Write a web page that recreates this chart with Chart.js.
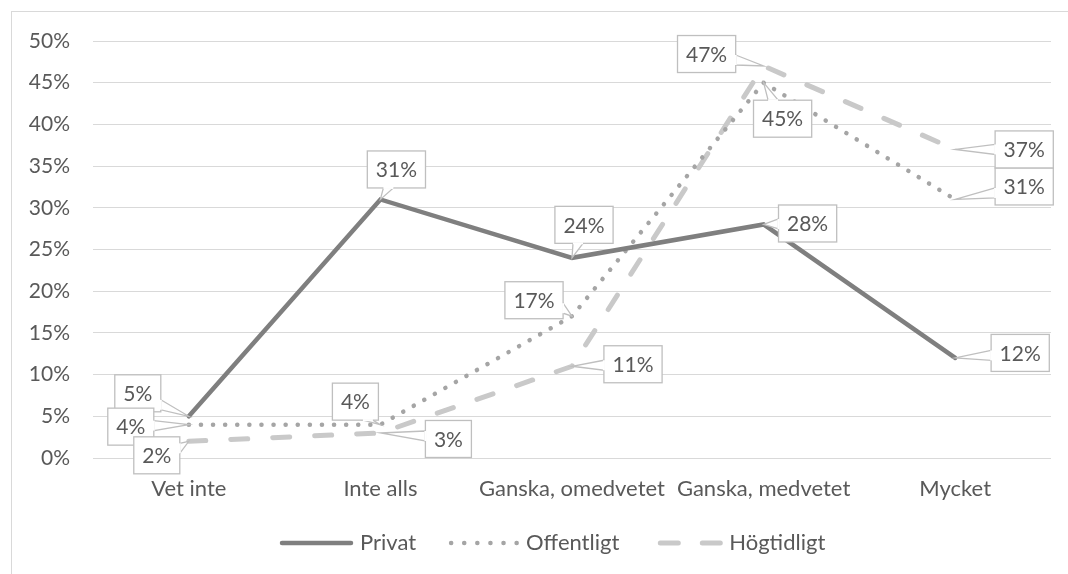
<!DOCTYPE html>
<html>
<head>
<meta charset="utf-8">
<script src="https://cdn.jsdelivr.net/npm/chart.js@4"></script>
<style>
  body { margin: 0; background: #fff; }
  #wrap { position: absolute; left: 0; top: 0; width: 1068px; height: 574px; overflow: hidden; }
  #frame { position: absolute; left: 11px; top: 11px; width: 1100px; height: 620px; border: 1px solid #d9d9d9; }
  #chart { position: absolute; left: 0; top: 0; }
</style>
</head>
<body>
<div id="wrap">
  <div id="frame"></div>
  <canvas id="chart" width="1068" height="574"></canvas>
</div>
<script>
var categories = ['Vet inte', 'Inte alls', 'Ganska, omedvetet', 'Ganska, medvetet', 'Mycket'];
var privat = [5, 31, 24, 28, 12];
var offentligt = [4, 4, 17, 45, 31];
var hogtidligt = [2, 3, 11, 47, 37];
var seriesNames = ['Privat', 'Offentligt', 'Högtidligt'];
var yTicks = [0, 5, 10, 15, 20, 25, 30, 35, 40, 45, 50];

// where each callout box sits, relative to its point (dx, dy of box centre)
var calloutOffsets = [
    [[-51, -23], [16, -30], [12, -33], [44, -1], [65, -5]],
    [[-58, 2], [-25, -23], [-38, -16], [19, 36], [69, -13]],
    [[-32, 14], [68, 6], [61, -2], [-57, -12], [69, 0]]
];

var FONT = 'Lato, "Noto Sans", sans-serif';
var TEXT = '#595959';

var calloutPlugin = {
    id: 'callouts',
    afterDatasetsDraw: function (chart) {
        var ctx = chart.ctx;
        ctx.save();
        ctx.font = '21px ' + FONT;
        chart.data.datasets.forEach(function (ds, i) {
            var meta = chart.getDatasetMeta(i);
            meta.data.forEach(function (pt, j) {
                var off = calloutOffsets[i][j];
                var label = ds.data[j] + '%';
                var w = ctx.measureText(label).width + 17;
                var h = 37;
                var cx = pt.x + off[0], cy = pt.y + off[1];
                var x0 = cx - w / 2, y0 = cy - h / 2;
                // pointer wedge base on the nearest edge
                var vx = pt.x - cx, vy = pt.y - cy;
                var b1, b2;
                if (Math.abs(vx) / (w / 2) > Math.abs(vy) / (h / 2)) {
                    var ex = vx > 0 ? x0 + w : x0;
                    var by = Math.max(y0 + 6, Math.min(y0 + h - 6, cy + vy * 0.5));
                    b1 = [ex, by - 5]; b2 = [ex, by + 5];
                } else {
                    var ey = vy > 0 ? y0 + h : y0;
                    var bx = Math.max(x0 + 6, Math.min(x0 + w - 6, cx + vx * 0.5));
                    b1 = [bx - 5, ey]; b2 = [bx + 5, ey];
                }
                ctx.fillStyle = '#ffffff';
                ctx.strokeStyle = '#bfbfbf';
                ctx.lineWidth = 1.3;
                ctx.beginPath();
                ctx.moveTo(b1[0], b1[1]);
                ctx.lineTo(pt.x, pt.y);
                ctx.lineTo(b2[0], b2[1]);
                ctx.closePath();
                ctx.fill();
                ctx.stroke();
                ctx.fillRect(x0, y0, w, h);
                ctx.strokeRect(x0, y0, w, h);
                // open the border where the wedge joins
                ctx.beginPath();
                ctx.moveTo(b1[0], b1[1]);
                ctx.lineTo(b2[0], b2[1]);
                ctx.strokeStyle = '#ffffff';
                ctx.lineWidth = 2;
                ctx.stroke();
                ctx.fillStyle = TEXT;
                ctx.textAlign = 'center';
                ctx.textBaseline = 'middle';
                ctx.fillText(label, cx, cy + 1);
            });
        });
        ctx.restore();
    }
};

// legend patterns differ a little from the plotted lines
var legendDash = [[], [0.1, 13], [18, 24]];

var legendPlugin = {
    id: 'customLegend',
    afterDraw: function (chart) {
        var ctx = chart.ctx;
        var y = 543;
        var x = 280;
        ctx.save();
        ctx.font = '22px ' + FONT;
        ctx.textBaseline = 'middle';
        ctx.textAlign = 'left';
        chart.data.datasets.forEach(function (ds, i) {
            ctx.beginPath();
            ctx.strokeStyle = ds.borderColor;
            ctx.lineWidth = ds.borderWidth;
            ctx.lineCap = 'round';
            ctx.setLineDash(legendDash[i]);
            var start = i === 0 ? x + 2 : (i === 1 ? x + 5 : x + 11);
            ctx.moveTo(start, y);
            ctx.lineTo(x + 71, y);
            ctx.stroke();
            ctx.setLineDash([]);
            ctx.fillStyle = TEXT;
            ctx.fillText(ds.label, x + 80, y);
            x += 80 + ctx.measureText(ds.label).width + 30;
        });
        ctx.restore();
    }
};

new Chart(document.getElementById('chart').getContext('2d'), {
    type: 'line',
    data: {
        labels: categories,
        datasets: [
            {
                label: seriesNames[0],
                data: privat,
                borderColor: '#7f7f7f',
                borderWidth: 4.5,
                borderCapStyle: 'round',
                pointRadius: 0,
                tension: 0
            },
            {
                label: seriesNames[1],
                data: offentligt,
                borderColor: '#a5a5a5',
                borderWidth: 4.5,
                borderDash: [0.1, 12],
                borderCapStyle: 'round',
                pointRadius: 0,
                tension: 0
            },
            {
                label: seriesNames[2],
                data: hogtidligt,
                borderColor: '#c9c9c9',
                borderWidth: 5,
                borderDash: [17, 25],
                borderCapStyle: 'round',
                pointRadius: 0,
                tension: 0
            }
        ]
    },
    options: {
        responsive: false,
        animation: false,
        devicePixelRatio: 1,
        layout: { padding: { top: 41, right: 17, bottom: 0, left: 0 } },
        plugins: {
            legend: { display: false },
            tooltip: { enabled: false }
        },
        scales: {
            x: {
                offset: true,
                grid: { display: false, drawTicks: false },
                border: { display: false },
                ticks: { color: TEXT, font: { family: FONT, size: 22 }, padding: 18, maxRotation: 0, autoSkip: false },
                afterFit: function (scale) { scale.height = 116; }
            },
            y: {
                min: 0,
                max: 50,
                afterBuildTicks: function (scale) {
                    scale.ticks = yTicks.map(function (v) { return { value: v }; });
                },
                grid: { color: '#d9d9d9', lineWidth: 1, drawTicks: false },
                border: { display: false },
                ticks: {
                    color: TEXT,
                    font: { family: FONT, size: 21 },
                    padding: 23,
                    callback: function (v) { return v + '%'; }
                },
                afterFit: function (scale) { scale.width = 93; }
            }
        }
    },
    plugins: [calloutPlugin, legendPlugin]
});
</script>
</body>
</html>
